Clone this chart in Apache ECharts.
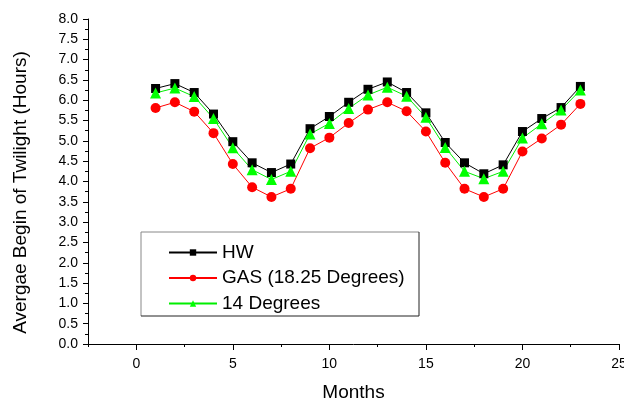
<!DOCTYPE html>
<html>
<head>
<meta charset="utf-8">
<script src="https://cdn.jsdelivr.net/npm/echarts@6/dist/echarts.min.js"></script>
<style>html,body{margin:0;padding:0;background:#fff}#c{width:624px;height:398px}</style>
</head>
<body>
<div id="c"></div>
<script>
var months = [1,2,3,4,5,6,7,8,9,10,11,12,13,14,15,16,17,18,19,20,21,22,23];
var hw = [6.29,6.41,6.19,5.66,4.98,4.46,4.22,4.43,5.30,5.60,5.95,6.27,6.45,6.19,5.69,4.96,4.46,4.19,4.41,5.23,5.55,5.82,6.34];
var gas = [5.81,5.95,5.72,5.19,4.43,3.86,3.62,3.82,4.82,5.08,5.44,5.77,5.95,5.73,5.23,4.46,3.82,3.62,3.82,4.74,5.06,5.40,5.91];
var deg14 = [6.18,6.30,6.09,5.55,4.83,4.29,4.05,4.25,5.17,5.43,5.80,6.13,6.32,6.10,5.58,4.84,4.25,4.07,4.25,5.07,5.42,5.76,6.25];
var xMajorTicks = [0,5,10,15,20,25];
var xMinorTicks = [-2.5,2.5,7.5,12.5,17.5,22.5];
var seriesNames = ['HW','GAS (18.25 Degrees)','14 Degrees'];

function pairs(ys){ return months.map(function(m,i){ return [m, ys[i]]; }); }

var font = 'Arial, "Liberation Sans", sans-serif';
var chart = echarts.init(document.getElementById('c'), null, {renderer:'canvas'});
chart.setOption({
  animation:false,
  backgroundColor:'#fff',
  grid:{left:88, right:5, top:19, bottom:54, containLabel:false, outerBoundsMode:'none'},
  legend:{
    orient:'vertical', left:163, top:238, itemWidth:48, itemHeight:8, itemGap:6.5,
    textStyle:{fontFamily:font, fontSize:19, color:'#000'},
    data:seriesNames
  },
  graphic:[
    {type:'polyline', shape:{points:[[141,316],[141,232],[419,232]]}, style:{stroke:'#888', lineWidth:1, fill:null}, z:10},
    {type:'polyline', shape:{points:[[419,232],[419,316],[141,316]]}, style:{stroke:'#222', lineWidth:1, fill:null}, z:10}
  ],
  xAxis:[{
    type:'value', min:-2.5, max:25,
    name:'Months', nameLocation:'middle', nameGap:39,
    nameTextStyle:{fontFamily:font, fontSize:19, color:'#000'},
    axisLine:{show:true, onZero:false, lineStyle:{color:'#000', width:1}},
    axisTick:{show:true, customValues:xMajorTicks, length:6, lineStyle:{color:'#000'}},
    axisLabel:{customValues:xMajorTicks, margin:13, fontFamily:font, fontSize:14, color:'#000'},
    splitLine:{show:false}
  },{
    type:'value', min:-2.5, max:25, position:'bottom', offset:0,
    axisLine:{show:false, onZero:false},
    axisTick:{show:true, customValues:xMinorTicks, length:3, lineStyle:{color:'#000'}},
    axisLabel:{show:false},
    splitLine:{show:false}
  }],
  yAxis:{
    type:'value', min:0, max:8, interval:0.5,
    name:'Avergae Begin of Twilight (Hours)', nameLocation:'middle', nameGap:58,
    nameTextStyle:{fontFamily:font, fontSize:19, color:'#000', padding:[0,22,0,0]},
    axisLine:{show:true, onZero:false, lineStyle:{color:'#000', width:1}},
    axisTick:{show:true, length:5, lineStyle:{color:'#000'}},
    minorTick:{show:true, splitNumber:2, length:3, lineStyle:{color:'#000'}},
    axisLabel:{margin:10, fontFamily:font, fontSize:14, color:'#000', formatter:function(v){return v.toFixed(1);}},
    splitLine:{show:false}
  },
  series:[
    {name:seriesNames[0], type:'line', data:pairs(hw), symbol:'rect', symbolSize:9,
     lineStyle:{color:'#000', width:1}, itemStyle:{color:'#000'}},
    {name:seriesNames[1], type:'line', data:pairs(gas), symbol:'circle', symbolSize:10,
     lineStyle:{color:'#ff0000', width:1}, itemStyle:{color:'#ff0000'}},
    {name:seriesNames[2], type:'line', data:pairs(deg14), symbol:'triangle', symbolSize:11,
     lineStyle:{color:'#00ee00', width:1}, itemStyle:{color:'#00ff00'}}
  ]
});
</script>
</body>
</html>
